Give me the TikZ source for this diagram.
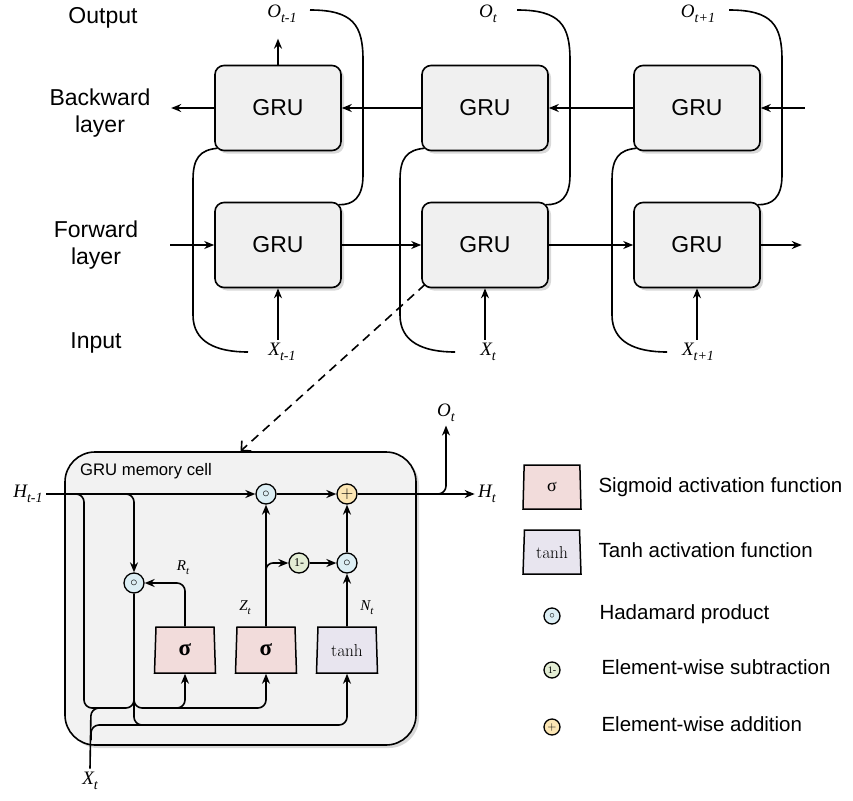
\documentclass[tikz,border=0pt]{standalone}
\usepackage[no-math]{fontspec}
\setmainfont{Liberation Sans}
\newfontfamily\seriffont{Liberation Serif}
\usetikzlibrary{arrows.meta,shapes.geometric,shadows,calc}
\definecolor{boxfill}{HTML}{F0F0F0}
\definecolor{cellfill}{HTML}{F2F2F2}
\definecolor{hadfill}{HTML}{DCEEF4}
\definecolor{addfill}{HTML}{FCE6B4}
\definecolor{subfill}{HTML}{E3EDD4}
\definecolor{sigfill}{HTML}{F2DCDB}
\definecolor{tanhfill}{HTML}{E8E5EF}
\newcommand\mvar[4]{{\fontsize{#3}{#3}\selectfont\seriffont\itshape #1\raisebox{-0.28em}{\fontsize{#4}{#4}\selectfont #2}}}
\newcommand\hadsym[1]{{\fontsize{#1}{#1}\selectfont$\circ$}}
\begin{document}
\begin{tikzpicture}[x=1pt,y=-1pt,
  ln/.style={line width=1.6pt},
  arr/.style={ln,-{Stealth[length=10pt,width=8pt]}},
  gru/.style={draw, line width=1.6pt, rounded corners=9pt, fill=boxfill,
    minimum width=126pt, minimum height=85pt, font=\fontsize{23}{27}\selectfont,
    drop shadow={shadow xshift=3pt, shadow yshift=-3pt, opacity=0.3}},
  side/.style={font=\fontsize{23}{27}\selectfont, align=center},
  legtext/.style={font=\fontsize{20.5}{24}\selectfont, anchor=west},
  op/.style={circle, draw, line width=1.3pt, minimum size=20pt, inner sep=0pt},
  trap/.style={trapezium, trapezium angle=83, trapezium stretches body, draw,
    line width=1.5pt, minimum width=61pt, minimum height=46pt, inner sep=0pt}
]
\useasboundingbox (0,0) rectangle (853,800);

% ---------- top: bidirectional GRU ----------
\node[side] (lout) at (103,18) {Output};
\node[side] (lback) at (100,113) {Backward\\layer};
\node[side] (lfwd) at (96,245) {Forward\\layer};
\node[side] (lin) at (96,343) {Input};

\foreach \i/\cx/\sub/\ox in {1/278/t-1/4, 2/485/t/3, 3/697/t+1/1} {
  \node[gru] (b\i) at (\cx,108) {GRU};
  \node[gru] (f\i) at (\cx,245) {GRU};
  \node (o\i) at (\cx+\ox,14) {\mvar{O}{\sub}{19}{14}};
  \node (x\i) at (\cx+\ox,352) {\mvar{X}{\sub}{19}{14}};
}
\foreach \i/\cx in {1/278, 2/485, 3/697} {
  \draw[arr] (f\i.south |- x\i.north) -- (f\i.south);
  \draw[ln] (\cx+32,10) .. controls (\cx+75,10) and (\cx+85,25) .. (\cx+85,60)
     -- (\cx+85,175) .. controls (\cx+85,198) and (\cx+75,205) .. ($(f\i.north east)+(-3,3)$);
  \draw[ln] ($(b\i.south west)+(3,-3)$) .. controls (\cx-78,150) and (\cx-85,158) .. (\cx-85,180)
     -- (\cx-85,315) .. controls (\cx-85,342) and (\cx-62,352) .. (\cx-30,352);
}
\draw[arr] (b1.north) -- ++(0,-26);
\draw[arr] (b1.west) -- ++(-43,0);
\draw[arr] (b2.west) -- (b1.east);
\draw[arr] (b3.west) -- (b2.east);
\draw[arr] ($(b3.east)+(44,0)$) -- (b3.east);
\draw[arr] ($(f1.west)+(-44,0)$) -- (f1.west);
\draw[arr] (f1.east) -- (f2.west);
\draw[arr] (f2.east) -- (f3.west);
\draw[arr] (f3.east) -- ++(41,0);

% ---------- GRU memory cell ----------
\node[draw, line width=1.6pt, rounded corners=30pt, fill=cellfill,
  minimum width=351pt, minimum height=293pt,
  drop shadow={shadow xshift=3pt, shadow yshift=-3pt, opacity=0.3}] (cell) at (240.5,598.5) {};
\node[font=\fontsize{16.7}{20}\selectfont] (celllbl) at (146,471) {GRU memory cell};

\draw[ln, dashed, dash pattern=on 9pt off 6pt, -{Straight Barb[length=7pt,width=14pt]}]
  ($(f2.south west)+(4,-4)$) -- (cell.north);

\node (hin) at (28,494) {\mvar{H}{t-1}{19}{14}};
\node (hout) at (487,494) {\mvar{H}{t}{19}{14}};
\node (oc) at (446,413) {\mvar{O}{t}{19}{14}};
\node (xc) at (90,781) {\mvar{X}{t}{19}{14}};

\node[op, fill=hadfill] (h1) at (266,494) {\hadsym{14}};
\node[op, fill=addfill] (ad) at (347,494) {{\fontsize{16}{16}\selectfont$+$}};
\node[op, fill=hadfill] (h2) at (134,583) {\hadsym{14}};
\node[op, fill=subfill] (om) at (299,563) {{\fontsize{12}{12}\selectfont\seriffont 1-}};
\node[op, fill=hadfill] (h3) at (347,563) {\hadsym{14}};

\node[trap, fill=sigfill] (s1) at (185,650) {{\fontsize{23}{23}\selectfont\seriffont\bfseries σ}};
\node[trap, fill=sigfill] (s2) at (266,650) {{\fontsize{23}{23}\selectfont\seriffont\bfseries σ}};
\node[trap, fill=tanhfill] (th) at (347,650) {{\fontsize{16}{16}\selectfont$\tanh$}};

\node (rt) at (183,568) {\mvar{R}{t}{15}{11}};
\node (zt) at (245,608) {\mvar{Z}{t}{15}{11}};
\node (nt) at (367,608) {\mvar{N}{t}{15}{11}};

\coordinate (u) at (0,708);
\coordinate (v) at (0,725);

\draw[arr] (hin.east) -- (h1.west);
\draw[arr] (h1.east) -- (ad.west);
\draw[arr] (ad.east) -- (hout.west);
\draw[arr, rounded corners=8pt] (425,494) -- (oc.south |- ad) -- (oc.south);

\draw[ln, rounded corners=8pt] (70,494) -- (84,494) -- (84,708) -- (134,708) -- (134,698);
\draw[arr, rounded corners=8pt] (115,494) -- (h2.north |- ad) -- (h2.north);
\draw[arr, rounded corners=8pt] (134,698) -- (134,708) -- (s1.south |- u) -- (s1.south);
\draw[arr, rounded corners=8pt] (170,708) -- (s2.south |- u) -- (s2.south);
\draw[arr, rounded corners=8pt] (h2.south) -- (h2.south |- v) -- (th.south |- v) -- (th.south);
\draw[ln, rounded corners=8pt] (xc.north) -- (91,708) -- (120,708);
\draw[ln, rounded corners=8pt] (91,740) -- (91,725) -- (160,725);

\draw[arr, rounded corners=8pt] (s1.north) -- (s1.north |- h2) -- (h2.east);
\draw[arr] (s2.north) -- (h1.south);
\draw[arr, rounded corners=7pt] (266,590) -- (266,563) -- (om.west);
\draw[arr] (om.east) -- (h3.west);
\draw[arr] (h3.north) -- (ad.south);
\draw[arr] (th.north) -- (h3.south);

% ---------- legend ----------
\node[trap, fill=sigfill, minimum width=58pt, minimum height=44pt] (ls) at (552,487)
  {{\fontsize{18}{18}\selectfont\seriffont σ}};
\node[legtext] (lst) at (595,487) {Sigmoid activation function};
\node[trap, fill=tanhfill, minimum width=58pt, minimum height=44pt] (lt) at (552,552)
  {{\fontsize{16}{16}\selectfont$\tanh$}};
\node[legtext] (ltt) at (595,550) {Tanh activation function};
\node[op, fill=hadfill, minimum size=16pt] (lh) at (552,616) {\hadsym{11}};
\node[legtext] (lht) at (596,614) {Hadamard product};
\node[op, fill=subfill, minimum size=16pt] (lm) at (552,670) {{\fontsize{10}{10}\selectfont\seriffont 1-}};
\node[legtext] (lmt) at (598,667) {Element-wise subtraction};
\node[op, fill=addfill, minimum size=16pt] (lp) at (552,727) {{\fontsize{13}{13}\selectfont$+$}};
\node[legtext] (lpt) at (598,724) {Element-wise addition};
\end{tikzpicture}
\end{document}
